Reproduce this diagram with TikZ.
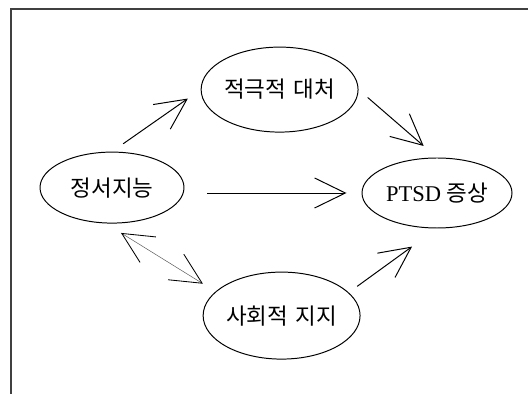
\documentclass[tikz,border=0pt]{standalone}
\usepackage{fontspec}
\setmainfont{Liberation Serif}
\newfontfamily\kr{Noto Sans CJK KR}
\usetikzlibrary{shapes.geometric}
\usetikzlibrary{arrows.meta}

\begin{document}
\begin{tikzpicture}[>={Straight Barb[length=7.7mm,width=7.5mm]},
    every node/.style={font=\fontsize{16}{18}\selectfont},
    var/.style={draw, ellipse, inner sep=0pt, line width=0.7pt},
    link/.style={line width=0.7pt, ->}]
        \useasboundingbox (0,0) rectangle (13.2,9.85);
        \draw[black!75, line width=0.9pt] (0.275,0) -- (0.275,9.625) -- (13.2,9.625);

        \node[var, minimum width=3.6cm, minimum height=1.775cm] (emo) at (2.8,5.16) {\kr 정서지능};
        \node[var, minimum width=3.875cm, minimum height=2.125cm] (cope) at (6.99,7.61) {\kr 적극적\,\,대처};
        \node[var, minimum width=3.825cm, minimum height=2.175cm] (supp) at (7.04,1.96) {\kr 사회적\,\,지지};
        \node[var, minimum width=3.75cm, minimum height=1.75cm] (ptsd) at (10.925,5.025) {PTSD {\kr 증상}};

        \draw[link, shorten <=0.34cm, shorten >=0.39cm] (emo.north) -- (cope.west);
        \draw[link, shorten <=0.3cm, shorten >=0.44cm] (cope.east) -- (ptsd.north);
        \draw[link, shorten <=0.575cm, shorten >=0.375cm] (emo.east |- ptsd.west) -- (ptsd.west);
        \draw[link, shorten <=0.26cm, shorten >=0.77cm] (supp.19) -- (ptsd.south);
        \draw[line width=0.35pt, black!65, shorten <=0.45cm, shorten >=0.37cm,
          {Straight Barb[length=7.7mm,width=7.5mm,color=black,line width=0.6pt]}-{Straight Barb[length=7.7mm,width=7.5mm,color=black,line width=0.6pt]}]
          (emo.-100) -- (supp.160);
      \end{tikzpicture}
\end{document}
